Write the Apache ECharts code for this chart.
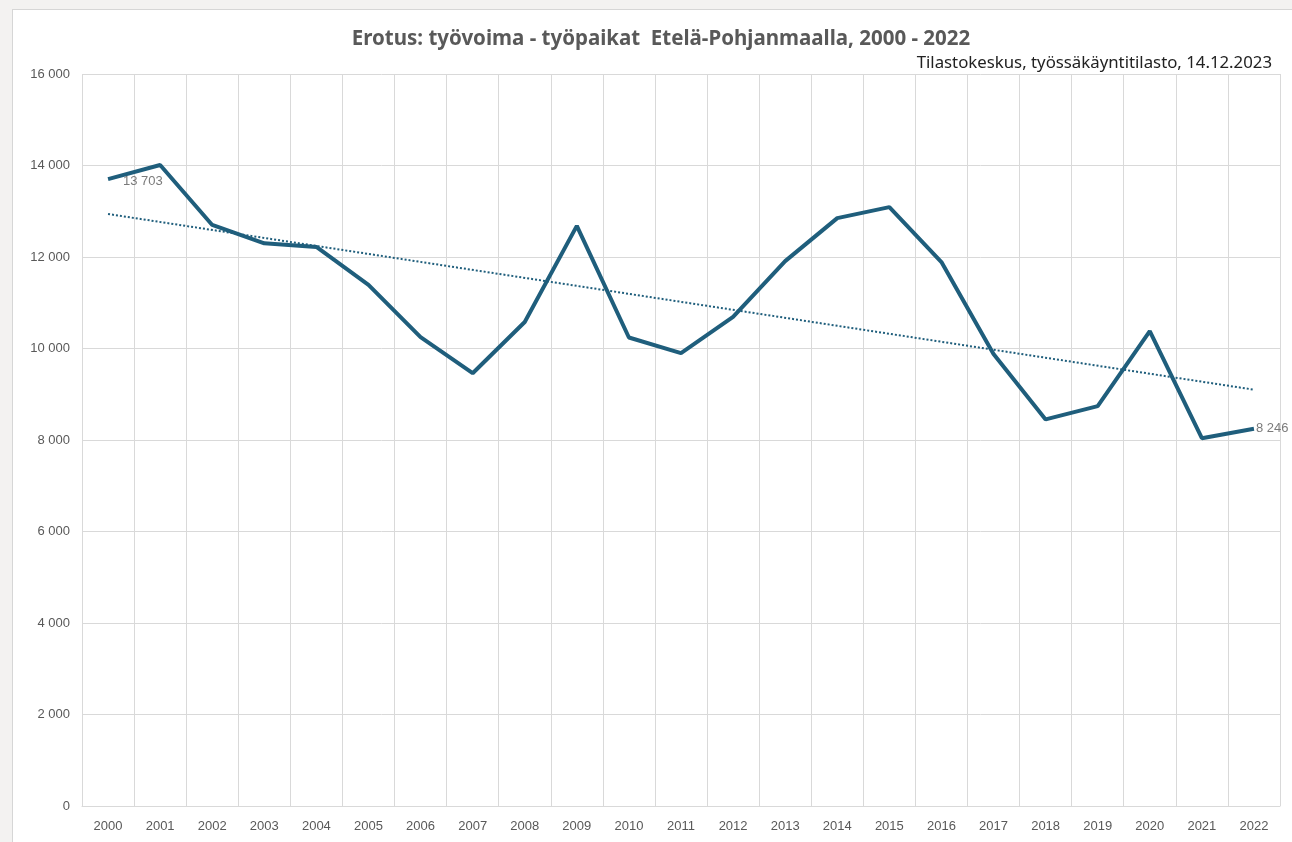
<!DOCTYPE html>
<html>
<head>
<meta charset="utf-8">
<script src="https://cdn.jsdelivr.net/npm/echarts@6/dist/echarts.min.js"></script>
<style>
  html, body { margin: 0; padding: 0; background: #f3f2f1; }
  #box { position: absolute; left: 12px; top: 9px; width: 1300px; height: 850px; background: #fff; border: 1px solid #d6d6d6; }
  #chart { position: absolute; left: 0; top: 0; width: 1292px; height: 842px; }
</style>
</head>
<body>
<div id="box"></div>
<div id="chart"></div>
<script>
var years = ['2000', '2001', '2002', '2003', '2004', '2005', '2006', '2007', '2008', '2009', '2010', '2011',
    '2012', '2013', '2014', '2015', '2016', '2017', '2018', '2019', '2020', '2021', '2022'];
var erotus = [13703, 14010, 12700, 12300, 12220, 11390, 10250, 9460, 10580, 12680, 10240, 9900,
    10690, 11910, 12850, 13090, 11890, 9880, 8450, 8740, 10380, 8040, 8246];
// trendline end points (first and last year)
var trendEnds = [12940, 9100];

var yTicks = { min: 0, max: 16000, interval: 2000 };
var gray = '#595959';
var lineColor = '#1f5e7c';

function fmt(v) {
    return String(v).replace(/\B(?=(\d{3})+(?!\d))/g, ' ');
}

var trendData = [[years[0], trendEnds[0]], [years[years.length - 1], trendEnds[1]]];

var chart = echarts.init(document.getElementById('chart'));
var option = {
    animation: false,
    textStyle: { fontFamily: 'Liberation Sans, Arial, sans-serif' },
    title: [{
        text: 'Erotus: työvoima - työpaikat  Etelä-Pohjanmaalla, 2000 - 2022',
        left: 656,
        textAlign: 'center',
        top: 24,
        textStyle: { fontSize: 20.5, fontWeight: 'bold', color: gray, fontFamily: 'Noto Sans, sans-serif' }
    }, {
        text: 'Tilastokeskus, työssäkäyntitilasto, 14.12.2023',
        right: 15,
        top: 50,
        textStyle: { fontSize: 16.8, fontWeight: 'normal', color: '#222', fontFamily: 'Noto Sans, sans-serif' }
    }],
    grid: { left: 82, right: 12, top: 74, bottom: 36 },
    xAxis: {
        type: 'category',
        data: years,
        boundaryGap: true,
        axisLine: { show: true, lineStyle: { color: '#d9d9d9', width: 1 } },
        axisTick: { show: false },
        splitLine: { show: true, lineStyle: { color: '#d9d9d9', width: 1 } },
        axisLabel: { color: gray, fontSize: 13, margin: 14, interval: 0 }
    },
    yAxis: {
        type: 'value',
        min: yTicks.min,
        max: yTicks.max,
        interval: yTicks.interval,
        axisLine: { show: false },
        axisTick: { show: false },
        splitLine: { lineStyle: { color: '#d9d9d9', width: 1 } },
        axisLabel: { color: gray, fontSize: 13, margin: 12, formatter: fmt }
    },
    series: [{
        type: 'line',
        data: trendData,
        symbol: 'none',
        silent: true,
        lineStyle: { color: lineColor, width: 2, type: [2, 2] },
        z: 2
    }, {
        type: 'line',
        data: erotus,
        symbol: 'none',
        lineStyle: { color: lineColor, width: 4 },
        z: 3
    }, {
        type: 'scatter',
        symbolSize: 0,
        data: erotus.map(function (v, i) {
            if (i === 0) {
                return { value: [years[i], v], label: { show: true, position: 'right', offset: [10, 2] } };
            }
            if (i === erotus.length - 1) {
                return { value: [years[i], v], label: { show: true, position: 'right', distance: 2 } };
            }
            return { value: [years[i], v], label: { show: false } };
        }),
        label: {
            color: gray,
            fontSize: 13,
            formatter: function (p) { return fmt(p.value[1]); }
        },
        z: 4
    }]
};
chart.setOption(option);
</script>
</body>
</html>
